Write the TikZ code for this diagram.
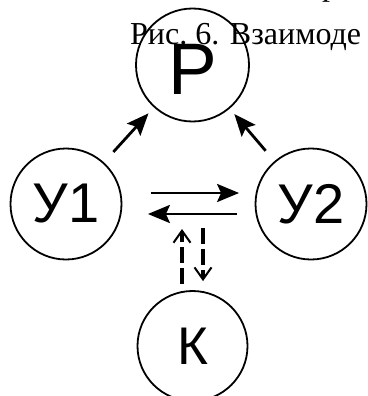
\documentclass[tikz,border=0pt]{standalone}
\usepackage{fontspec}
\setmainfont{Liberation Serif}
\setsansfont{Liberation Sans}
\usetikzlibrary{arrows.meta, positioning, calc}
\tikzset{
  agent/.style={circle, draw, line width=1.8pt, minimum size=111pt, inner sep=0pt,
                font=\sffamily\fontsize{#1}{#1}\selectfont},
  arr/.style={-{Stealth[length=22pt, width=18pt, inset=4pt]}, line width=2.8pt},
  darr/.style={-{Straight Barb[length=12pt, width=17pt, line width=2pt]},
               line width=3.2pt, dash pattern=on 16pt off 5pt},
  captxt/.style={anchor=base west, inner sep=0pt, font=\fontsize{32pt}{36pt}\selectfont},
}
\begin{document}
\begin{tikzpicture}[x=1pt, y=-1pt, node distance=139pt]
      \useasboundingbox (0,0) rectangle (367,396);

      \node[captxt] (prev) at (322,-4) {р};
      \node[captxt] (cap) at (130,45) {Рис.\ 6. Взаимоде};

      \node[agent=73pt, minimum size=113pt, text height=58pt] (P) at (192.5,65) {Р};
      \node[agent=56pt, on grid, below left=139pt and 126.5pt of P] (U1) {У1};
      \node[agent=56pt, on grid, below right=139pt and 118.5pt of P] (U2) {У2};
      \node[agent=53pt, minimum size=110pt, on grid, below=281pt of P] (K) {К};
      \coordinate (link) at (K |- U1);

      \draw[arr, shorten <=14pt, shorten >=8pt] (U1) -- (P);
      \draw[arr, shorten <=13.5pt, shorten >=7pt] (U2) -- (P);

      \draw[arr, shorten <=28.5pt, shorten >=15.5pt] ($(U1.east)+(0,-11)$) -- ($(U2.west)+(0,-11)$);
      \draw[arr, shorten <=17.5pt, shorten >=25.5pt] ($(U2.west)+(0,10)$) -- ($(U1.east)+(0,10)$);

      \draw[darr, shorten <=6pt, shorten >=25pt] ([xshift=-10.5pt]K.north) -- ([xshift=-10.5pt]link);
      \draw[darr, shorten <=24pt, shorten >=9pt] ([xshift=10.5pt]link) -- ([xshift=10.5pt]K.north);
    \end{tikzpicture}
\end{document}
